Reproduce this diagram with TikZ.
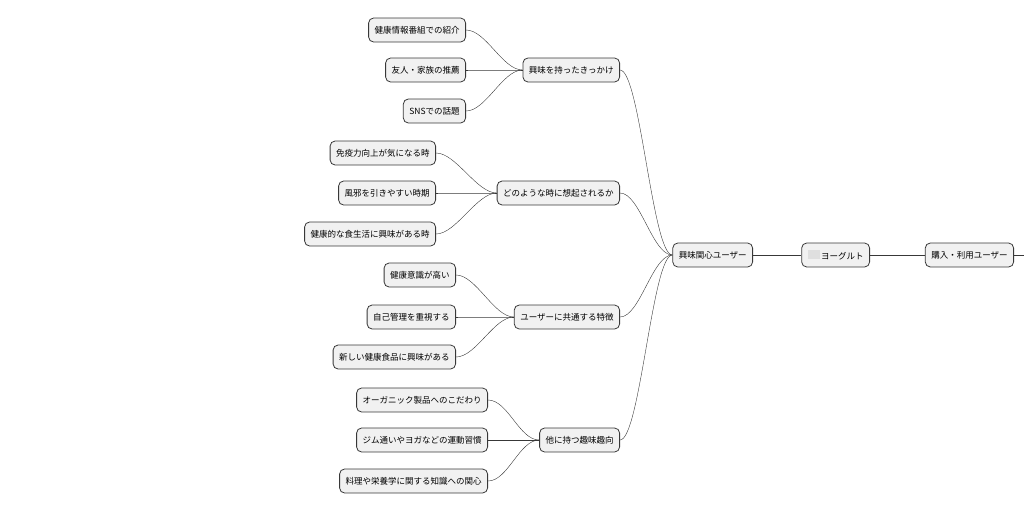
\documentclass[tikz,border=0pt]{standalone}
\usepackage{fontspec}
\setmainfont{Noto Sans CJK JP}
\usetikzlibrary{positioning}
\definecolor{boxfill}{HTML}{F1F1F1}
\definecolor{boxline}{HTML}{383838}

\begin{document}
\begin{tikzpicture}[x=1pt,y=-1pt]
			\useasboundingbox (0,0) rectangle (1024,512);
			\begin{scope}
				[
					styleTopic/.style={
						draw=boxline, fill=boxfill, rounded corners=5pt, thick,
						minimum height=24pt, inner xsep=6pt, anchor=east,
						font=\fontsize{8.5}{10}\selectfont
						},
				]
				\node(root)[styleTopic] at (870,255) {\textcolor{gray!25}{\rule{12pt}{9pt}}\,ヨーグルト};
				\node(interest)[styleTopic] at (753,255) {興味関心ユーザー};
				\node(buyer)[styleTopic] at (1014,255) {購入・利用ユーザー};

				\node(trigger)[styleTopic] at (620,70) {興味を持ったきっかけ};
				\node(tv)[styleTopic] at (466,30) {健康情報番組での紹介};
				\node(friend)[styleTopic] at (466,70) {友人・家族の推薦};
				\node(sns)[styleTopic] at (466,111) {SNSでの話題};

				\node(recall)[styleTopic] at (620,193) {どのような時に想起されるか};
				\node(immune)[styleTopic] at (436,153) {免疫力向上が気になる時};
				\node(cold)[styleTopic] at (436,193) {風邪を引きやすい時期};
				\node(diet)[styleTopic] at (436,234) {健康的な食生活に興味がある時};

				\node(common)[styleTopic] at (620,317) {ユーザーに共通する特徴};
				\node(aware)[styleTopic] at (456,275) {健康意識が高い};
				\node(self)[styleTopic] at (456,317) {自己管理を重視する};
				\node(newfood)[styleTopic] at (456,357) {新しい健康食品に興味がある};

				\node(hobby)[styleTopic] at (620,440) {他に持つ趣味趣向};
				\node(organic)[styleTopic] at (488,400) {オーガニック製品へのこだわり};
				\node(gym)[styleTopic] at (488,440) {ジム通いやヨガなどの運動習慣};
				\node(cook)[styleTopic] at (488,481) {料理や栄養学に関する知識への関心};

				\coordinate(next) at (1024,255);
			\end{scope}
			\begin{scope}
				[ link/.style = {draw=boxline, thin} ]
				\draw[link] (root.east) -- (buyer.west);
				\draw[link] (buyer.east) -- (next);
				\draw[link] (interest.east) -- (root.west);
				\foreach \kid in {trigger,recall,common,hobby}
					\draw[link] (\kid.east) .. controls +(20,0) and +(-20,0) .. (interest.west);
				\foreach \kid in {tv,friend,sns}
					\draw[link] (\kid.east) .. controls +(20,0) and +(-20,0) .. (trigger.west);
				\foreach \kid in {immune,cold,diet}
					\draw[link] (\kid.east) .. controls +(20,0) and +(-20,0) .. (recall.west);
				\foreach \kid in {aware,self,newfood}
					\draw[link] (\kid.east) .. controls +(20,0) and +(-20,0) .. (common.west);
				\foreach \kid in {organic,gym,cook}
					\draw[link] (\kid.east) .. controls +(20,0) and +(-20,0) .. (hobby.west);
			\end{scope}
		\end{tikzpicture}
\end{document}
